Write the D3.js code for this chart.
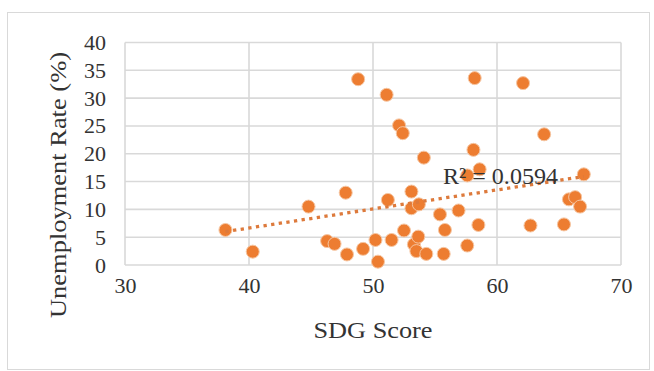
<!DOCTYPE html>
<html>
<head>
<meta charset="utf-8">
<script src="https://cdn.jsdelivr.net/npm/d3@7"></script>
<style>
  html, body { margin: 0; padding: 0; background: #fff; }
  svg { display: block; }
  text { font-family: "Liberation Serif", "Times New Roman", serif; fill: #333; }
</style>
</head>
<body>
<div id="chart"></div>
<script>
// ---- data ----
const sdgScore = [38.1, 40.3, 44.8, 47.8, 48.8, 46.3, 46.9, 47.9, 49.2, 50.2, 50.4, 51.1, 51.2, 51.5,
  52.1, 52.4, 52.5, 53.1, 53.1, 53.7, 53.3, 53.65, 53.5, 54.3, 54.1, 55.4, 55.7, 55.8, 56.9, 57.6,
  57.6, 58.1, 58.2, 58.5, 58.6, 62.1, 62.7, 63.8, 65.4, 65.8, 66.3, 66.7, 67.0];
const unemployment = [6.3, 2.4, 10.5, 13.0, 33.4, 4.3, 3.8, 1.9, 2.9, 4.5, 0.6, 30.6, 11.7, 4.5,
  25.1, 23.7, 6.2, 13.2, 10.2, 10.9, 3.7, 5.1, 2.5, 2.0, 19.3, 9.1, 2.0, 6.3, 9.8, 3.5,
  16.1, 20.7, 33.6, 7.2, 17.2, 32.7, 7.1, 23.5, 7.3, 11.8, 12.2, 10.5, 16.3];
const xTicks = [30, 40, 50, 60, 70];
const yTicks = [0, 5, 10, 15, 20, 25, 30, 35, 40];
const xTitle = "SDG Score";
const yTitle = "Unemployment Rate (%)";
const r2Label = "R² = 0.0594";

const W = 654, H = 371;
const plot = { left: 125, right: 621, top: 42.5, bottom: 265 };

const svg = d3.select("#chart").append("svg").attr("width", W).attr("height", H);

// outer chart border
svg.append("rect").attr("x", 7.5).attr("y", 12.5).attr("width", 642).attr("height", 357)
  .attr("fill", "#fff").attr("stroke", "#d9d9d9").attr("stroke-width", 1);

const x = d3.scaleLinear().domain([30, 70]).range([plot.left, plot.right]);
const y = d3.scaleLinear().domain([0, 40]).range([plot.bottom, plot.top]);

// gridlines
const grid = svg.append("g");
grid.selectAll("line.h").data(yTicks).join("line")
  .attr("x1", plot.left).attr("x2", plot.right)
  .attr("y1", d => y(d)).attr("y2", d => y(d))
  .attr("stroke", "#d9d9d9").attr("stroke-width", 1.6);
grid.selectAll("line.v").data(xTicks).join("line")
  .attr("y1", plot.top).attr("y2", plot.bottom)
  .attr("x1", d => x(d)).attr("x2", d => x(d))
  .attr("stroke", "#d9d9d9").attr("stroke-width", 1.6);

// axes (labels only)
const xAxis = svg.append("g").attr("transform", `translate(0,${plot.bottom})`)
  .call(d3.axisBottom(x).tickValues(xTicks).tickSize(0).tickPadding(12).tickFormat(d3.format("d")));
xAxis.select(".domain").remove();
xAxis.selectAll("text").attr("font-size", 22).attr("font-family", "Liberation Serif").attr("fill", "#333");

const yAxis = svg.append("g").attr("transform", `translate(${plot.left},0)`)
  .call(d3.axisLeft(y).tickValues(yTicks).tickSize(0).tickPadding(19).tickFormat(d3.format("d")));
yAxis.select(".domain").remove();
yAxis.selectAll("text").attr("font-size", 22).attr("font-family", "Liberation Serif").attr("fill", "#333");

// titles
svg.append("text").attr("x", (plot.left + plot.right) / 2).attr("y", 338)
  .attr("text-anchor", "middle").attr("font-size", 24)
  .attr("textLength", 119).attr("lengthAdjust", "spacingAndGlyphs")
  .text(xTitle);
svg.append("text").attr("transform", "translate(66,185) rotate(-90)")
  .attr("text-anchor", "middle").attr("font-size", 24)
  .attr("textLength", 266).attr("lengthAdjust", "spacingAndGlyphs")
  .text(yTitle);

// points
const pts = sdgScore.map((v, i) => ({ x: v, y: unemployment[i] }));

// linear regression trendline
const n = pts.length;
const mx = d3.mean(pts, d => d.x), my = d3.mean(pts, d => d.y);
const sxy = d3.sum(pts, d => (d.x - mx) * (d.y - my));
const sxx = d3.sum(pts, d => (d.x - mx) ** 2);
const slope = sxy / sxx, intercept = my - slope * mx;
const [x0, x1] = d3.extent(pts, d => d.x);

svg.append("g").selectAll("circle").data(pts).join("circle")
  .attr("cx", d => x(d.x)).attr("cy", d => y(d.y)).attr("r", 6.5)
  .attr("fill", "#ed7d31").attr("stroke", "#f6c6a2").attr("stroke-width", 1);

svg.append("line")
  .attr("x1", x(x0)).attr("y1", y(intercept + slope * x0))
  .attr("x2", x(x1)).attr("y2", y(intercept + slope * x1))
  .attr("stroke", "#dd7a3c").attr("stroke-width", 3.3)
  .attr("stroke-dasharray", "3.3,4.4");

// R² label
svg.append("text").attr("x", 443).attr("y", 184).attr("font-size", 23)
  .attr("textLength", 115).attr("lengthAdjust", "spacingAndGlyphs")
  .attr("fill", "#222").text(r2Label);
</script>
</body>
</html>
